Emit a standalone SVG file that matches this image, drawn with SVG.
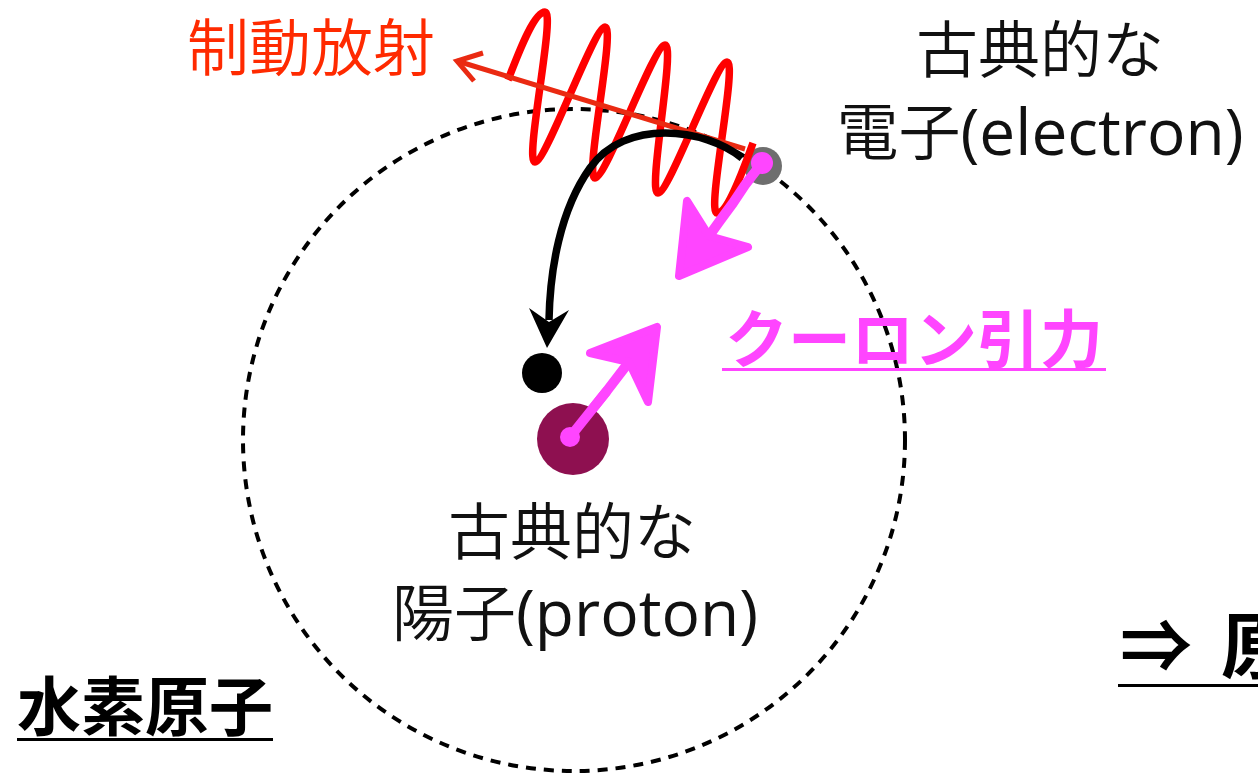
<svg xmlns="http://www.w3.org/2000/svg" width="1258" height="775" viewBox="0 0 1258 775">
  <defs>
    <style>
      .jp { font-family: "Noto Sans CJK JP", "Noto Sans", sans-serif; }
      .thin { font-weight: 350; }
      .lat { font-family: "Open Sans", "Noto Sans CJK JP", sans-serif; font-size: 64px; font-weight: 400; }
      .label { font-size: 62px; fill: #111; text-anchor: middle; }
      .bold { font-weight: 700; }
      .pink { fill: #ff45ff; }
      .pinkline { stroke: #ff45ff; fill: #ff45ff; stroke-linecap: round; stroke-linejoin: round; }
    </style>
  </defs>

  <rect width="1258" height="775" fill="#ffffff"/>

  <!-- classical orbit of the electron -->
  <g id="orbit">
    <circle cx="574" cy="440" r="331" fill="none" stroke="#000" stroke-width="4" stroke-dasharray="10 8"/>
  </g>

  <!-- electron sitting on the orbit -->
  <g id="electron">
    <circle cx="763" cy="166" r="19" fill="#6e6e6e"/>
  </g>

  <g id="connectors">
    <!-- emitted radiation wave -->
    <path id="bremsstrahlung-wave" d="M508,80 C516,60 533,12 545,12 C556,12 524,162 535,162 C546,162 594,27 605,27 C616,27 584,178 595,178 C606,178 654,45 665,45 C676,45 647,193 658,193 C669,193 716,62 727,62 C738,62 706,213 717,213 C728,213 745,165 753,143" fill="none" stroke="#ff0000" stroke-width="7.5"/>
    <!-- direction of emission -->
    <g id="emission-arrow" fill="none" stroke="#ea2a12" stroke-width="5" stroke-linejoin="miter">
      <line x1="745" y1="149" x2="457" y2="61"/>
      <polyline points="483,53 457,61 474,81"/>
    </g>
    <!-- spiral-in path of the electron -->
    <g id="fall-arrow">
      <path d="M742,158 C705,128 625,118 590,168 C560,210 550,270 549,320" fill="none" stroke="#000" stroke-width="7.5"/>
      <polygon points="547,348 529,308 549,322 569,310" fill="#000"/>
    </g>
    <!-- Coulomb attraction on the electron -->
    <g id="coulomb-on-electron" class="pinkline">
      <path d="M762,163 L745,185 L733,203 L719,222 L709,236" fill="none" stroke-width="10"/>
      <circle cx="762" cy="163" r="11" stroke="none"/>
      <polygon points="687,201 679,276 748,247 709,236" stroke-width="8"/>
    </g>
    <!-- Coulomb attraction on the proton -->
    <g id="coulomb-on-proton" class="pinkline">
      <path d="M570,437 L590,412 L606,392 L629,362" fill="none" stroke-width="10"/>
      <polygon points="590,353 657,327 648,402 629,362" stroke-width="8"/>
    </g>
  </g>

  <!-- proton at the centre -->
  <g id="proton">
    <circle cx="573" cy="439" r="36" fill="#8e1050"/>
    <circle cx="570" cy="437" r="10" fill="#ff45ff"/>
    <line x1="570" y1="437" x2="606" y2="392" stroke="#ff45ff" stroke-width="10" stroke-linecap="round"/>
  </g>

  <!-- where the electron ends up -->
  <g id="collapsed-electron">
    <circle cx="542" cy="373" r="20" fill="#000"/>
  </g>

  <g id="label-bremsstrahlung">
    <text class="jp thin" x="311" y="71" font-size="62" fill="#ff2a00" text-anchor="middle">制動放射</text>
  </g>

  <g id="label-electron">
    <text class="jp thin label" x="1040" y="73">古典的な</text>
    <text class="jp thin label" x="1040" y="155">電子<tspan class="lat">(electron)</tspan></text>
  </g>

  <g id="label-proton">
    <text class="jp thin label" x="572" y="555">古典的な</text>
    <text class="jp thin label" x="575" y="636">陽子<tspan class="lat">(proton)</tspan></text>
  </g>

  <g id="label-coulomb">
    <text class="jp bold pink" x="914" y="362" font-size="63" text-anchor="middle">クーロン引力</text>
    <line x1="722" y1="369.5" x2="1106" y2="369.5" stroke="#ff45ff" stroke-width="3"/>
  </g>

  <g id="label-hydrogen">
    <text class="jp bold" x="145" y="730" font-size="64" fill="#000" text-anchor="middle">水素原子</text>
    <line x1="17" y1="739.5" x2="273" y2="739.5" stroke="#000" stroke-width="3"/>
  </g>

  <g id="label-conclusion">
    <text class="jp bold" y="672" font-size="72" fill="#000"><tspan x="1120">⇒</tspan> <tspan x="1221">原</tspan></text>
    <line x1="1118" y1="685.5" x2="1258" y2="685.5" stroke="#000" stroke-width="3"/>
  </g>
</svg>
